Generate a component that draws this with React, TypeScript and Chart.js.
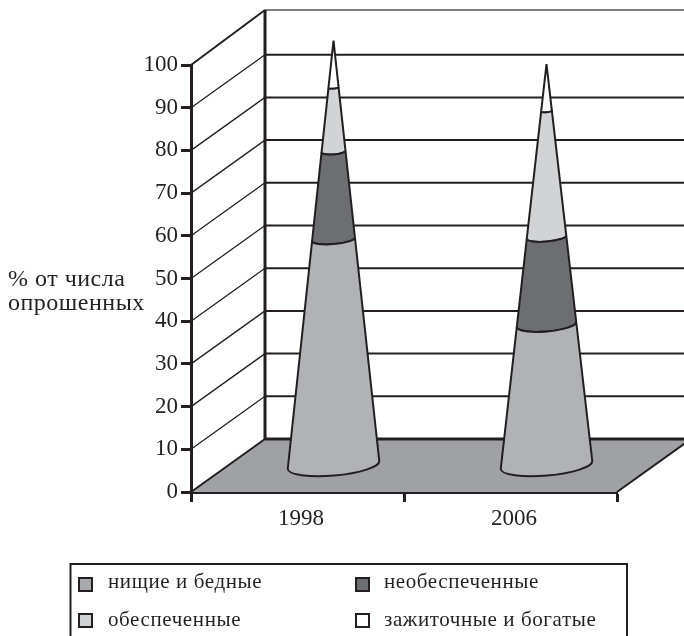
import React, { useEffect, useRef } from "react";
import { Chart, registerables } from "chart.js";

Chart.register(...registerables);

const years = ["1998", "2006"];
const poor = [53, 33];
const unprovided = [20.5, 20.5];
const provided = [15, 29.5];
const wealthy = [11, 11];
const seriesNames = ["нищие и бедные", "необеспеченные", "обеспеченные", "зажиточные и богатые"];
const coneColors = ["#b1b2b5", "#6d6e71", "#d1d3d4", "#ffffff"];
const swatchColors = ["#a7a9ac", "#6d6e71", "#d1d3d4", "#ffffff"];
const axisTitle = ["% от числа", "опрошенных"];
const INK = "#231f20";
const FONT = '"Liberation Serif", serif';

const DEPTH_X = 74;
const DEPTH_Y = -53;
const CONE_R = 46;
const TILT = -0.087;

const conePlugin = {
  id: "cones",
  beforeDatasetsDraw(chart: any) {
    const { ctx, scales, chartArea } = chart;
    const y = scales.y;
    const { left, right, bottom } = chartArea;
    ctx.save();
    ctx.strokeStyle = INK;
    ctx.lineCap = "butt";
    const last = y.ticks.length - 1;
    y.ticks.forEach((t: any, i: number) => {
      const py = y.getPixelForValue(t.value);
      if (i > 0) {
        const dy = i === last ? DEPTH_Y - 2 : DEPTH_Y;
        ctx.lineWidth = i === last ? 2 : 1.3;
        ctx.beginPath();
        ctx.moveTo(left, py);
        ctx.lineTo(left + DEPTH_X, py + dy);
        ctx.stroke();
        ctx.strokeStyle = i === last ? "#555" : INK;
        ctx.lineWidth = i === last ? 1.5 : 2;
        ctx.beginPath();
        ctx.moveTo(left + DEPTH_X, py + dy);
        ctx.lineTo(chart.width, py + dy);
        ctx.stroke();
        ctx.strokeStyle = INK;
      }
    });
    ctx.lineWidth = 3;
    ctx.beginPath();
    ctx.moveTo(left + DEPTH_X, y.getPixelForValue(100) + DEPTH_Y - 2);
    ctx.lineTo(left + DEPTH_X, bottom + DEPTH_Y);
    ctx.stroke();
    ctx.fillStyle = "#a0a1a4";
    ctx.beginPath();
    ctx.moveTo(left, bottom);
    ctx.lineTo(right, bottom);
    ctx.lineTo(right + DEPTH_X, bottom + DEPTH_Y);
    ctx.lineTo(left + DEPTH_X, bottom + DEPTH_Y);
    ctx.closePath();
    ctx.fill();
    ctx.lineWidth = 2;
    ctx.beginPath();
    ctx.moveTo(left, bottom);
    ctx.lineTo(left + DEPTH_X, bottom + DEPTH_Y);
    ctx.moveTo(right, bottom);
    ctx.lineTo(right + DEPTH_X, bottom + DEPTH_Y);
    ctx.stroke();
    ctx.lineWidth = 3;
    ctx.beginPath();
    ctx.moveTo(left + DEPTH_X, bottom + DEPTH_Y);
    ctx.lineTo(chart.width, bottom + DEPTH_Y);
    ctx.stroke();
    ctx.restore();
  },
  beforeDatasetDraw(chart: any, args: any) {
    const { ctx } = chart;
    const n = chart.data.datasets.length;
    const meta = args.meta;
    const topMeta = chart.getDatasetMeta(n - 1);
    ctx.save();
    ctx.strokeStyle = INK;
    ctx.lineWidth = 2;
    ctx.lineJoin = "bevel";
    meta.data.forEach((el: any, i: number) => {
      const cx = el.x + DEPTH_X / 2 - 1;
      const yBase = el.base + DEPTH_Y / 2;
      const yTop = el.y + DEPTH_Y / 2;
      const y0 = chart.scales.y.getPixelForValue(0) + DEPTH_Y / 2;
      const apex = topMeta.data[i].y + DEPTH_Y / 2;
      const rad = (py: number) => (CONE_R * (py - apex)) / (y0 - apex);
      const r1 = rad(yBase);
      const r2 = Math.max(rad(yTop), 0);
      ctx.fillStyle = chart.data.datasets[args.index].coneColor;
      ctx.beginPath();
      ctx.ellipse(cx, yBase, r1, r1 * 0.23, TILT, 0, Math.PI, false);
      if (r2 > 0.01) {
        ctx.ellipse(cx, yTop, r2, r2 * 0.23, TILT, Math.PI, 0, true);
      } else {
        ctx.lineTo(cx, yTop);
      }
      ctx.closePath();
      ctx.fill();
      ctx.stroke();
    });
    ctx.restore();
    return false;
  },
  afterDraw(chart: any) {
    const { ctx } = chart;
    ctx.save();
    ctx.fillStyle = INK;
    ctx.textBaseline = "alphabetic";
    ctx.textAlign = "left";
    ctx.font = `24px ${FONT}`;
    ctx.letterSpacing = "0.5px";
    ctx.fillText(axisTitle[0], 8, 286);
    ctx.fillText(axisTitle[1], 8, 310);
    ctx.strokeStyle = INK;
    ctx.lineWidth = 2;
    ctx.beginPath();
    ctx.moveTo(70.5, 636);
    ctx.lineTo(70.5, 564);
    ctx.lineTo(627, 564);
    ctx.lineTo(627, 636);
    ctx.stroke();
    ctx.font = `21px ${FONT}`;
    ctx.letterSpacing = "0.6px";
    const colX = [79, 356];
    const textX = [108, 384];
    const rowY = [578, 614];
    const baseY = [588, 626];
    seriesNames.forEach((name, i) => {
      const c = i % 2;
      const r = Math.floor(i / 2);
      ctx.fillStyle = swatchColors[i];
      ctx.fillRect(colX[c], rowY[r], 13, 13);
      ctx.strokeRect(colX[c], rowY[r], 13, 13);
      ctx.fillStyle = INK;
      ctx.fillText(name, textX[c], baseY[r]);
    });
    ctx.restore();
  },
};

const fit = (w: number | null, h: number | null) => (s: any) => {
  if (w !== null) s.width = w;
  if (h !== null) s.height = h;
  s.paddingLeft = 0;
  s.paddingRight = 0;
  s.paddingTop = 0;
  s.paddingBottom = 0;
};

export default function App() {
  const ref = useRef<HTMLCanvasElement>(null);
  useEffect(() => {
    if (!ref.current) return;
    const values = [poor, unprovided, provided, wealthy];
    const chart = new Chart(ref.current, {
      type: "bar",
      data: {
        labels: years,
        datasets: values.map((data, i) => ({
          label: seriesNames[i],
          data,
          backgroundColor: coneColors[i],
          coneColor: coneColors[i],
        })) as any,
      },
      options: {
        responsive: false,
        animation: false,
        layout: { padding: { top: 65, right: 67, left: 0, bottom: 0 } },
        plugins: { legend: { display: false }, tooltip: { enabled: false } },
        scales: {
          x: {
            stacked: true,
            afterFit: fit(null, 144),
            grid: { offset: true, drawOnChartArea: false, tickLength: 10, tickWidth: 3, tickColor: INK },
            border: { display: true, color: INK, width: 3 },
            ticks: { color: INK, font: { family: FONT, size: 23 }, padding: 3, maxRotation: 0, labelOffset: 3.5 },
          },
          y: {
            stacked: true,
            min: 0,
            max: 100,
            afterFit: fit(191, null),
            grid: { drawOnChartArea: false, tickLength: 10, tickWidth: 3, tickColor: INK },
            border: { display: true, color: INK, width: 3 },
            ticks: { stepSize: 10, color: INK, font: { family: FONT, size: 23 }, padding: 3 },
          },
        },
      },
      plugins: [conePlugin],
    } as any);
    return () => chart.destroy();
  }, []);
  return (
    <canvas
      ref={ref}
      width={684}
      height={636}
      style={{ position: "absolute", left: 0, top: 0, width: 684, height: 636 }}
    />
  );
}
